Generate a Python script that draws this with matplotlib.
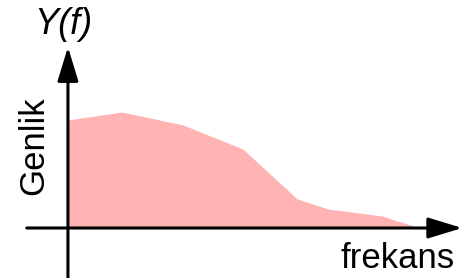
import matplotlib.pyplot as plt

# Spectrum outline (arbitrary units)
freq = [0.0, 1.53, 3.27, 4.97, 6.51, 7.39, 8.92, 10.0]
amplitude = [10.0, 10.74, 9.54, 7.31, 2.69, 1.76, 1.11, 0.0]

xLabel = "frekans"
yLabel = "Genlik"
title = "Y(f)"

fillColour = "#ffb3b3"
axisColour = "black"
fontsize = 25

fig = plt.figure(figsize=(4.64, 2.78), dpi=100)
ax = fig.add_axes([0, 0, 1, 1])
ax.set_xlim(-1.93, 11.25)
ax.set_ylim(-4.63, 21.11)
ax.axis("off")

ax.fill_between(freq, amplitude, 0, color=fillColour, linewidth=0)

# Axes drawn as arrows
arrowStyle = dict(arrowstyle="-|>,head_length=1.05,head_width=0.32", mutation_scale=20,
                  color=axisColour, lw=2.2, shrinkA=0, shrinkB=0)
ax.annotate("", xy=(11.2, 0), xytext=(-1.17, 0), arrowprops=arrowStyle)
ax.annotate("", xy=(0, 16.76), xytext=(0, -4.7), arrowprops=arrowStyle)

ax.text(-0.14, 18.8, title, fontsize=26, style="italic", family="Liberation Sans",
        ha="center", va="center")
ax.text(-0.97, 7.6, yLabel, fontsize=fontsize, family="Liberation Sans", rotation=90,
        ha="center", va="center")
ax.text(9.375, -2.87, xLabel, fontsize=fontsize, family="Liberation Sans",
        ha="center", va="center")

fig.savefig("out.png", dpi=100)
